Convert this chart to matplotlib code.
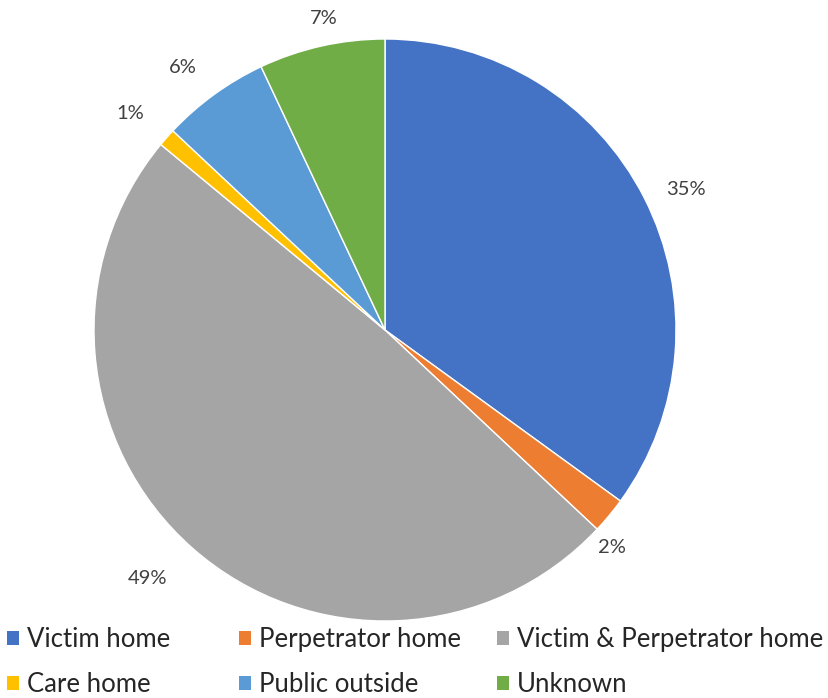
import numpy as np
import matplotlib
matplotlib.use("Agg")
from matplotlib import pyplot as plt
from matplotlib.patches import Patch

plt.rcParams['font.family'] = ['Lato', 'DejaVu Sans']

# data
categories = ['Victim home', 'Perpetrator home', 'Victim & Perpetrator home',
              'Care home', 'Public outside', 'Unknown']
shares = [35, 2, 49, 1, 6, 7]
colors = ['#4472C4', '#ED7D31', '#A5A5A5', '#FFC000', '#5B9BD5', '#70AD47']
# label placement (distance from centre, angle nudge in degrees)
label_dist = [1.14, 1.08, 1.18, 1.15, 1.14, 1.09]
label_nudge = [-2.0, -4.2, -2.3, 1.0, 1.6, -1.4]

fig = plt.figure(figsize=(8.29, 6.98), dpi=100)
ax = fig.add_axes([93 / 829, 1 - 621 / 698, 584 / 829, 582 / 698])

wedges, _ = ax.pie(shares, colors=colors, startangle=90, counterclock=False,
                   radius=1, wedgeprops=dict(edgecolor='white', linewidth=1))
ax.set_xlim(-1, 1)
ax.set_ylim(-1, 1)
ax.set_aspect('equal')
ax.axis('off')

# percent labels outside the slices
for w, val, d, n in zip(wedges, shares, label_dist, label_nudge):
    ang = np.deg2rad((w.theta1 + w.theta2) / 2 + n)
    ax.text(d * np.cos(ang), d * np.sin(ang), f'{val}%', ha='center', va='center',
            fontsize=14.5, color='#404040')

# legend: three columns, two rows
handles = [Patch(facecolor=c, edgecolor='none') for c in colors]
col_x = [7 / 829, 239 / 829, 497 / 829]
for k in range(3):
    idx = [k, k + 3]
    leg = fig.legend([handles[i] for i in idx], [categories[i] for i in idx],
                     loc='center left', bbox_to_anchor=(col_x[k], 1 - 662 / 698),
                     frameon=False, fontsize=18.5, handlelength=0.48, handleheight=0.48,
                     handletextpad=0.3, labelspacing=0.78, borderpad=0.0,
                     borderaxespad=0.0, labelcolor='#262626')

fig.savefig('out.png', dpi=100)
